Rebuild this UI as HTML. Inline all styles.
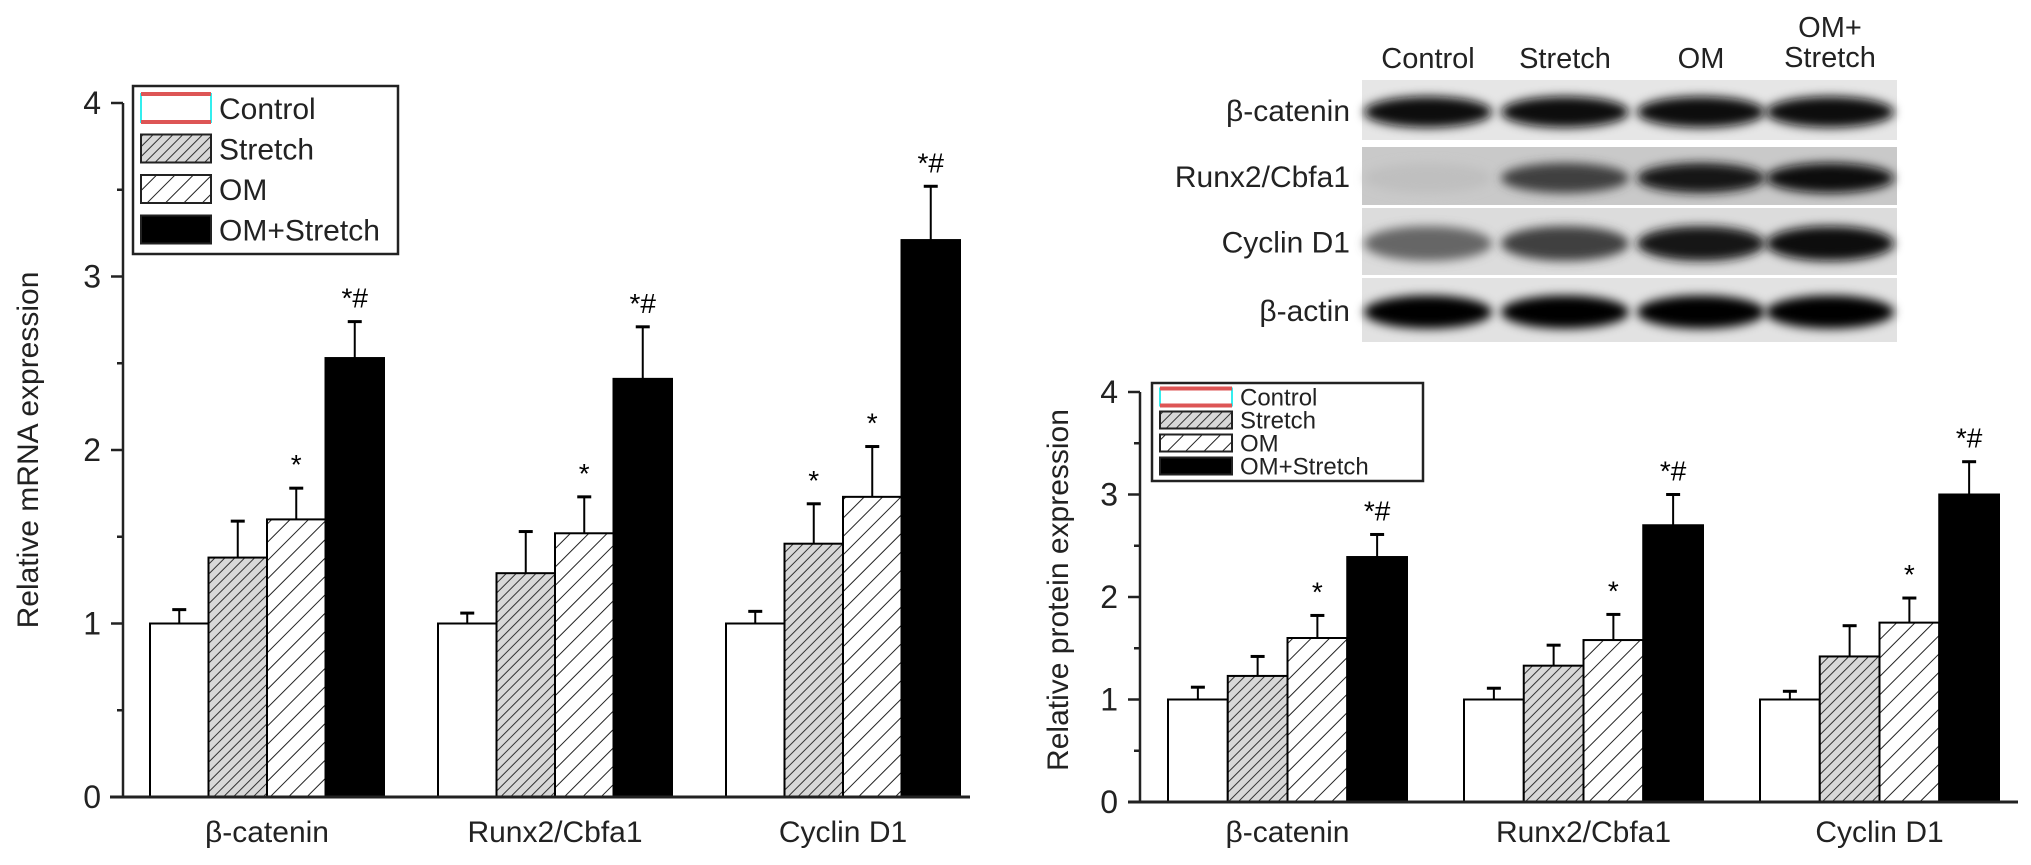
<!DOCTYPE html>
<html><head><meta charset="utf-8"><style>
html,body{margin:0;padding:0;background:#fff;}
svg{display:block;font-family:"Liberation Sans",Arial,sans-serif;}
</style></head><body>
<svg id="fig" width="2031" height="865" viewBox="0 0 2031 865">
<defs>
<pattern id="pStretch" patternUnits="userSpaceOnUse" width="7" height="7" patternTransform="rotate(45)">
<rect width="7" height="7" fill="#d8d8d8"/><line x1="0" y1="0" x2="0" y2="7" stroke="#333" stroke-width="2"/></pattern>
<pattern id="pOM" patternUnits="userSpaceOnUse" width="13" height="13" patternTransform="rotate(45)">
<rect width="13" height="13" fill="#fff"/><line x1="0" y1="0" x2="0" y2="13" stroke="#222" stroke-width="2"/></pattern>
<filter id="blur" x="-20%" y="-50%" width="140%" height="200%"><feGaussianBlur stdDeviation="5"/></filter>
</defs>
<g id="left"></g>
<g id="right"></g>
<g id="blot"></g>
</svg>
<script>
const categories = ["β-catenin","Runx2/Cbfa1","Cyclin D1"];
const seriesNames = ["Control","Stretch","OM","OM+Stretch"];
const yTicks = [0,1,2,3,4];
// mRNA
const mrnaControl = [1.0,1.0,1.0];
const mrnaControlErr = [1.08,1.06,1.07];
const mrnaStretch = [1.38,1.29,1.46];
const mrnaStretchErr = [1.59,1.53,1.69];
const mrnaOM = [1.60,1.52,1.73];
const mrnaOMErr = [1.78,1.73,2.02];
const mrnaOMS = [2.53,2.41,3.21];
const mrnaOMSErr = [2.74,2.71,3.52];
const mrnaSig = [["","","*","*#"],["","","*","*#"],["","*","*","*#"]];
// protein
const protControl = [1.0,1.0,1.0];
const protControlErr = [1.12,1.11,1.08];
const protStretch = [1.23,1.33,1.42];
const protStretchErr = [1.42,1.53,1.72];
const protOM = [1.60,1.58,1.75];
const protOMErr = [1.82,1.83,1.99];
const protOMS = [2.39,2.70,3.00];
const protOMSErr = [2.61,3.00,3.32];
const protSig = [["","","*","*#"],["","","*","*#"],["","","*","*#"]];
// blot intensities (0..1 darkness)
const blotRows = ["β-catenin","Runx2/Cbfa1","Cyclin D1","β-actin"];
const blotLanes = ["Control","Stretch","OM","OM+\nStretch"];
const blotDark = [[0.95,0.97,0.97,0.97],[0.25,0.75,0.92,0.95],[0.6,0.75,0.92,0.95],[0.98,0.98,0.98,0.98]];

const NS="http://www.w3.org/2000/svg";
function el(parent,tag,attrs,text){const e=document.createElementNS(NS,tag);for(const k in attrs)e.setAttribute(k,attrs[k]);if(text!==undefined)e.textContent=text;parent.appendChild(e);return e;}
const fills=["#fff","url(#pStretch)","url(#pOM)","#000"];

function drawChart(g,cfg){
  const ys=v=>cfg.y0-v*cfg.unit;
  const xs=(gi,k)=>cfg.x0+gi*cfg.gap+k*cfg.bw;
  // bars
  cfg.vals.forEach((arr,k)=>{arr.forEach((v,gi)=>{
    const x=xs(gi,k);
    const e=cfg.errs[k][gi];
    const ln=el(g,'line',{x1:x+cfg.bw/2,x2:x+cfg.bw/2,y1:ys(v),y2:ys(e),stroke:'#000','stroke-width':2});
    
    
    const cap=el(g,'line',{x1:x+cfg.bw/2-7,x2:x+cfg.bw/2+7,y1:ys(e),y2:ys(e),stroke:'#000','stroke-width':3});
    
    
    const r=el(g,'rect',{x:x,y:ys(v),width:cfg.bw,height:v*cfg.unit,fill:fills[k],stroke:'#000','stroke-width':2});
    
    
    const s=cfg.sig[gi][k];
    if(s){const t=el(g,'text',{x:x+cfg.bw/2,y:ys(e)-14,'text-anchor':'middle','font-size':cfg.sigFs,fill:'#000'},s);
      
      }
  });});
  // axes
  const xa=el(g,'line',{x1:cfg.axL,x2:cfg.axR,y1:cfg.y0,y2:cfg.y0,stroke:'#222','stroke-width':3});
  
  
  const ya=el(g,'line',{x1:cfg.yx,x2:cfg.yx,y1:cfg.y0,y2:ys(4),stroke:'#222','stroke-width':2.5});
  
  
  yTicks.forEach(t=>{
    el(g,'line',{x1:cfg.yx-12,x2:cfg.yx,y1:ys(t),y2:ys(t),stroke:'#222','stroke-width':2.5});
    if(t<4) el(g,'line',{x1:cfg.yx-6,x2:cfg.yx,y1:ys(t+0.5),y2:ys(t+0.5),stroke:'#222','stroke-width':2.5});
    const tl=el(g,'text',{x:cfg.yx-22,y:ys(t)+11,'text-anchor':'end','font-size':32,fill:'#222'},String(t));
    
    
  });
  categories.forEach((c,gi)=>{
    const t=el(g,'text',{x:xs(gi,2),y:cfg.catY,'text-anchor':'middle','font-size':30,fill:'#222'},c);
    
    
  });
  const yt=el(g,'text',{x:0,y:0,'text-anchor':'middle','font-size':30,fill:'#222',transform:`translate(${cfg.titleX},${cfg.titleY}) rotate(-90)`},cfg.title);
  
  
  // legend
  const L=cfg.leg;
  const lb=el(g,'rect',{x:L.x,y:L.y,width:L.w,height:L.h,fill:'#fff',stroke:'#222','stroke-width':2.5});
  
  
  seriesNames.forEach((n,k)=>{
    const cy=L.y+L.first+k*L.step;
    const sx=L.x+8;
    if(k===0){
      el(g,'rect',{x:sx,y:cy-L.sh/2,width:L.sw,height:L.sh,fill:'#fff',stroke:'#3ee',"stroke-width":2});
      el(g,'line',{x1:sx,x2:sx+L.sw,y1:cy-L.sh/2,y2:cy-L.sh/2,stroke:'#d55','stroke-width':4});
      el(g,'line',{x1:sx,x2:sx+L.sw,y1:cy+L.sh/2,y2:cy+L.sh/2,stroke:'#d55','stroke-width':4});
    } else el(g,'rect',{x:sx,y:cy-L.sh/2,width:L.sw,height:L.sh,fill:fills[k],stroke:'#222','stroke-width':2});
    const t=el(g,'text',{x:sx+L.sw+8,y:cy+L.fs*0.36,'font-size':L.fs,fill:'#222'},n);
    
    
  });
}

drawChart(document.getElementById('left'),{
  vals:[mrnaControl,mrnaStretch,mrnaOM,mrnaOMS],errs:[mrnaControlErr,mrnaStretchErr,mrnaOMErr,mrnaOMSErr],sig:mrnaSig,
  x0:150,gap:288,bw:58.5,y0:797,unit:173.5,axL:110,axR:970,yx:123,catY:842,sigFs:28,
  title:"Relative mRNA expression",titleX:38,titleY:450,
  leg:{x:133,y:86,w:265,h:168,first:22,step:40.5,sw:70,sh:28,fs:30}
});
drawChart(document.getElementById('right'),{
  vals:[protControl,protStretch,protOM,protOMS],errs:[protControlErr,protStretchErr,protOMErr,protOMSErr],sig:protSig,
  x0:1168,gap:296,bw:59.75,y0:802,unit:102.5,axL:1128,axR:2018,yx:1140,catY:842,sigFs:28,
  title:"Relative protein expression",titleX:1068,titleY:590,
  leg:{x:1152,y:383,w:271,h:98,first:14,step:23,sw:72,sh:17,fs:24}
});

// Western blot
(function(){
  const g=document.getElementById('blot');
  const rowY=[[80,140],[147,205],[208,275],[278,342]];
  const rowBg=["#e6e6e6","#c9c9c9","#dcdcdc","#e2e2e2"];
  const laneX=[1428,1565,1701,1830];
  blotRows.forEach((r,ri)=>{
    const [y1,y2]=rowY[ri];
    const bg=el(g,'rect',{x:1362,y:y1,width:535,height:y2-y1,fill:rowBg[ri]});
    
    
    blotDark[ri].forEach((d,li)=>{
      const c=Math.round(255*(1-d));
      const b=el(g,'ellipse',{cx:laneX[li],cy:(y1+y2)/2+2,rx:64,ry:(y2-y1)*0.26,fill:`rgb(${c},${c},${c})`,filter:'url(#blur)'});
      
      
    });
    const t=el(g,'text',{x:1350,y:(y1+y2)/2+11,'text-anchor':'end','font-size':30,fill:'#222'},r);
    
    
  });
  blotLanes.forEach((l,li)=>{
    const parts=l.split('\n');
    parts.forEach((p,pi)=>{
      const y=parts.length===1?68:(37+pi*30);
      const t=el(g,'text',{x:laneX[li],y:y,'text-anchor':'middle','font-size':29,fill:'#222'},p);
      
      
    });
  });
})();
</script>
</body></html>
